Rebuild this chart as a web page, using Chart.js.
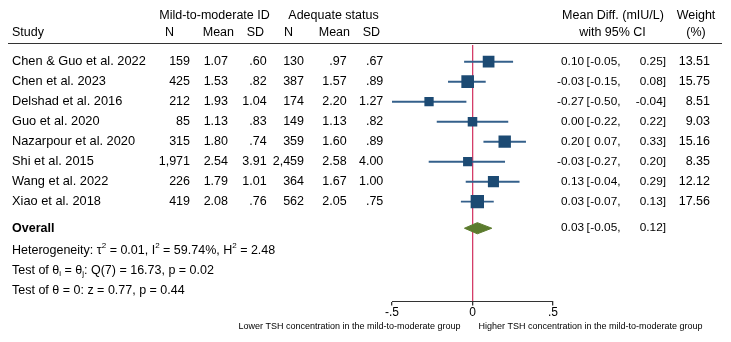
<!DOCTYPE html>
<html>
<head>
<meta charset="utf-8">
<script src="https://cdn.jsdelivr.net/npm/chart.js@4/dist/chart.umd.min.js"></script>
<style>
  html, body { margin: 0; padding: 0; background: #fff; }
  #wrap { width: 731px; height: 342px; position: relative; }
</style>
</head>
<body>
<div id="wrap"><canvas id="forest"></canvas></div>
<script>
// study table
const studies = ['Chen & Guo et al. 2022', 'Chen et al. 2023', 'Delshad et al. 2016', 'Guo et al. 2020',
                 'Nazarpour et al. 2020', 'Shi et al. 2015', 'Wang et al. 2022', 'Xiao et al. 2018']
const n1 = ['159', '425', '212', '85', '315', '1,971', '226', '419']
const mean1 = ['1.07', '1.53', '1.93', '1.13', '1.80', '2.54', '1.79', '2.08']
const sd1 = ['.60', '.82', '1.04', '.83', '.74', '3.91', '1.01', '.76']
const n2 = ['130', '387', '174', '149', '359', '2,459', '364', '562']
const mean2 = ['.97', '1.57', '2.20', '1.13', '1.60', '2.58', '1.67', '2.05']
const sd2 = ['.67', '.89', '1.27', '.82', '.89', '4.00', '1.00', '.75']

// effect sizes
const meanDiff = [0.10, -0.03, -0.27, 0.00, 0.20, -0.03, 0.13, 0.03]
const ciLow = [-0.05, -0.15, -0.50, -0.22, 0.07, -0.27, -0.04, -0.07]
const ciHigh = [0.25, 0.08, -0.04, 0.22, 0.33, 0.20, 0.29, 0.13]
const weights = [13.51, 15.75, 8.51, 9.03, 15.16, 8.35, 12.12, 17.56]
const overallEst = 0.03
const overallLow = -0.05
const overallHigh = 0.12

// axis
const xTicks = [-0.5, 0, 0.5]
const xTickLabels = ['-.5', '0', '.5']

const FONT = '"Liberation Sans", Arial, Helvetica, sans-serif'
Chart.defaults.font.family = FONT

const navy = '#1c4a73'
const ciColor = '#34608b'
const red = '#d43d68'
const green = '#5b7b2d'

const overallRow = studies.length + 0.33
const diamondHalf = 0.28

function fmt(v) {
    return v.toFixed(2)
}

const tablePlugin = {
    id: 'table',
    afterDraw(chart) {
        const ctx = chart.ctx
        const ys = chart.scales.y
        ctx.save()
        ctx.fillStyle = '#000'
        ctx.textBaseline = 'middle'
        const main = '12.5px ' + FONT
        const nums = '11.8px ' + FONT
        ctx.font = main

        function txt(s, x, y, align) {
            ctx.textAlign = align || 'left'
            ctx.fillText(s, x, y)
        }

        // headers
        txt('Mild-to-moderate ID', 214.5, 16, 'center')
        txt('Adequate status', 333.5, 16, 'center')
        txt('Mean Diff. (mIU/L)', 613, 16, 'center')
        txt('Weight', 696, 16, 'center')
        txt('Study', 12, 33)
        txt('N', 174, 33, 'right')
        txt('Mean', 234, 33, 'right')
        txt('SD', 264, 33, 'right')
        txt('N', 293, 33, 'right')
        txt('Mean', 350, 33, 'right')
        txt('SD', 380, 33, 'right')
        txt('with 95% CI', 612.5, 33, 'center')
        txt('(%)', 696, 33, 'center')

        ctx.strokeStyle = '#333'
        ctx.lineWidth = 1.2
        ctx.beginPath()
        ctx.moveTo(8, 43.5)
        ctx.lineTo(722, 43.5)
        ctx.stroke()

        function ciText(est, lo, hi, y) {
            ctx.font = nums
            txt(fmt(est), 584, y, 'right')
            txt('[', 586.5, y)
            txt(fmt(lo) + ',', 620.5, y, 'right')
            txt(fmt(hi) + ']', 666, y, 'right')
            ctx.font = main
        }

        studies.forEach((s, i) => {
            const y = ys.getPixelForValue(i)
            ctx.font = '12.8px ' + FONT
            txt(s, 12, y)
            ctx.font = main
            txt(n1[i], 190, y, 'right')
            txt(mean1[i], 228, y, 'right')
            txt(sd1[i], 266.7, y, 'right')
            txt(n2[i], 304, y, 'right')
            txt(mean2[i], 346.7, y, 'right')
            txt(sd2[i], 383.3, y, 'right')
            ciText(meanDiff[i], ciLow[i], ciHigh[i], y)
            txt(weights[i].toFixed(2), 710, y, 'right')
        })

        const yo = ys.getPixelForValue(overallRow)
        ctx.font = 'bold 12.5px ' + FONT
        txt('Overall', 12, yo)
        ctx.font = main
        ciText(overallEst, overallLow, overallHigh, yo)

        // stats lines with super/subscripts
        function rich(parts, x, y) {
            ctx.textAlign = 'left'
            parts.forEach(p => {
                let s = p, dy = 0, size = 12.5
                if (typeof p !== 'string') {
                    s = p[0]
                    size = 8
                    dy = p[1] === 'sup' ? -4.5 : 3.5
                }
                ctx.font = size + 'px ' + FONT
                ctx.fillText(s, x, y + dy)
                x += ctx.measureText(s).width
            })
            ctx.font = main
        }
        rich(['Heterogeneity: \u03c4', ['2', 'sup'], ' = 0.01, I', ['2', 'sup'], ' = 59.74%, H', ['2', 'sup'], ' = 2.48'], 12, yo + 22)
        rich(['Test of \u03b8', ['i', 'sub'], ' = \u03b8', ['j', 'sub'], ': Q(7) = 16.73, p = 0.02'], 12, yo + 42)
        rich(['Test of \u03b8 = 0: z = 0.77, p = 0.44'], 12, yo + 62)

        // direction labels
        ctx.font = '9px ' + FONT
        const x0 = chart.scales.x.getPixelForValue(0)
        txt('Lower TSH concentration in the mild-to-moderate group', x0 - 12, 327, 'right')
        txt('Higher TSH concentration in the mild-to-moderate group', x0 + 6, 327, 'left')
        ctx.restore()
    }
}

new Chart(document.getElementById('forest'), {
    type: 'scatter',
    data: {
        datasets: [
            {
                type: 'bar',
                indexAxis: 'y',
                data: studies.map((s, i) => ({ x: [ciLow[i], ciHigh[i]], y: i })),
                backgroundColor: ciColor,
                borderWidth: 0,
                barThickness: 1.3,
                grouped: false,
                order: 3
            },
            {
                type: 'scatter',
                data: meanDiff.map((v, i) => ({ x: v, y: i })),
                pointStyle: 'rect',
                pointRadius: weights.map(w => 2.25 * Math.sqrt(w)),
                backgroundColor: navy,
                borderColor: navy,
                borderWidth: 0,
                order: 2
            },
            {
                type: 'scatter',
                showLine: true,
                fill: 'shape',
                data: [
                    { x: overallLow, y: overallRow },
                    { x: overallEst, y: overallRow - diamondHalf },
                    { x: overallHigh, y: overallRow },
                    { x: overallEst, y: overallRow + diamondHalf },
                    { x: overallLow, y: overallRow }
                ],
                borderColor: green,
                backgroundColor: green,
                borderWidth: 1,
                pointRadius: 0,
                tension: 0,
                order: 1
            }
        ]
    },
    options: {
        responsive: true,
        maintainAspectRatio: false,
        animation: false,
        layout: { padding: { left: 392, right: 178, top: 45, bottom: 22 } },
        plugins: {
            legend: { display: false },
            tooltip: { enabled: false }
        },
        scales: {
            x: {
                type: 'linear',
                min: -0.5,
                max: 0.5,
                offset: false,
                afterBuildTicks: axis => { axis.ticks = xTicks.map(v => ({ value: v })) },
                ticks: {
                    callback: (value) => xTickLabels[xTicks.indexOf(value)],
                    font: { size: 12 },
                    color: '#000',
                    padding: 0,
                    maxRotation: 0,
                    autoSkip: false
                },
                grid: {
                    drawOnChartArea: true,
                    offset: false,
                    color: (c) => (c.tick && c.tick.value === 0) ? red : 'rgba(0,0,0,0)',
                    lineWidth: 1.3,
                    tickLength: 4,
                    tickColor: '#333'
                },
                border: { display: true, color: '#333', width: 1 }
            },
            y: {
                type: 'linear',
                reverse: true,
                offset: false,
                min: -0.835,
                max: 12,
                display: false
            }
        }
    },
    plugins: [tablePlugin]
})
</script>
</body>
</html>
